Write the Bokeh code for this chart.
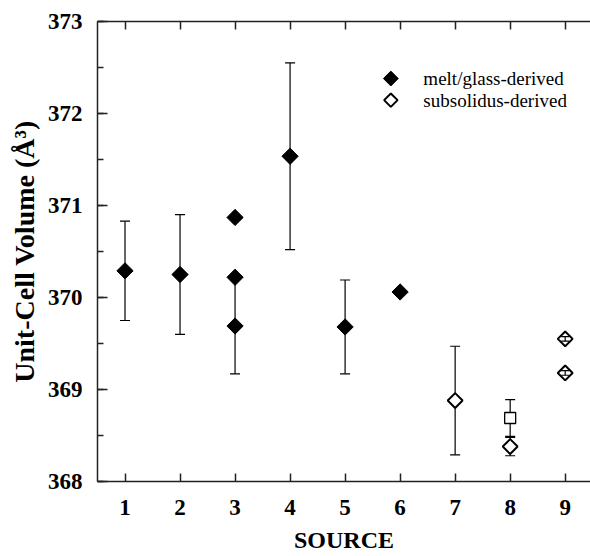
import math
from bokeh.plotting import figure
from bokeh.models import (ColumnDataSource, Whisker, TeeHead, LinearAxis, Label,
                          SingleIntervalTicker, FixedTicker, Range1d)
from bokeh.embed import file_html
from bokeh.resources import INLINE

# ---- data ----
x_ticks = [1, 2, 3, 4, 5, 6, 7, 8, 9]

melt_source = [1, 2, 3, 3, 3, 4, 5, 6]
melt_volume = [370.29, 370.25, 370.87, 370.22, 369.69, 371.535, 369.68, 370.06]
melt_error = [0.54, 0.65, 0.0, 0.0, 0.52, 1.015, 0.51, 0.0]

sub_source = [7, 8, 9, 9]
sub_volume = [368.88, 368.38, 369.55, 369.18]
sub_error = [0.59, 0.10, 0.025, 0.025]

sq_source = [8]
sq_volume = [368.69]
sq_error = [0.20]

legend_labels = ["melt/glass-derived", "subsolidus-derived"]
x_title = "SOURCE"
y_title = "Unit-Cell Volume (Å³)"

SERIF = "Liberation Serif"
X0, X1, Y0, Y1 = 0.5, 9.46, 368, 373

p = figure(width=590, height=556, output_backend="svg", toolbar_location=None,
           x_range=Range1d(X0, X1), y_range=Range1d(Y0, Y1),
           min_border_left=97, min_border_right=0, min_border_top=21, min_border_bottom=75,
           x_axis_location=None, y_axis_location=None)
p.outline_line_color = None
p.grid.visible = False
p.background_fill_color = "white"
p.border_fill_color = "white"

AX = "#222222"

xaxis = LinearAxis(ticker=FixedTicker(ticks=x_ticks), axis_label=x_title,
                   axis_line_color=AX, axis_line_width=1.5,
                   major_tick_in=8, major_tick_out=0, minor_tick_in=0, minor_tick_out=0,
                   major_tick_line_color=AX, major_tick_line_width=1.5,
                   major_label_text_font=SERIF, major_label_text_font_style="bold",
                   major_label_text_font_size="23px", major_label_text_color="black",
                   major_label_standoff=18,
                   axis_label_text_font=SERIF, axis_label_text_font_style="bold",
                   axis_label_text_font_size="24px", axis_label_text_color="black",
                   axis_label_standoff=9)
p.add_layout(xaxis, "below")

top = LinearAxis(ticker=FixedTicker(ticks=x_ticks),
                 axis_line_color=AX, axis_line_width=1.5,
                 major_tick_in=8, major_tick_out=0, minor_tick_in=0, minor_tick_out=0,
                 major_tick_line_color=AX, major_tick_line_width=1.5,
                 major_label_overrides={t: "" for t in x_ticks},
                 major_label_text_font_size="1px", major_label_standoff=0)
p.add_layout(top, "above")

yaxis = LinearAxis(ticker=SingleIntervalTicker(interval=1, num_minor_ticks=2),
                   axis_label=y_title,
                   axis_line_color=AX, axis_line_width=1.5,
                   major_tick_in=10, major_tick_out=0, minor_tick_in=6, minor_tick_out=0,
                   major_tick_line_color=AX, major_tick_line_width=1.5,
                   minor_tick_line_color=AX, minor_tick_line_width=1.5,
                   major_label_text_font=SERIF, major_label_text_font_style="bold",
                   major_label_text_font_size="23px", major_label_text_color="black",
                   major_label_standoff=15,
                   axis_label_text_font=SERIF, axis_label_text_font_style="bold",
                   axis_label_text_font_size="28px", axis_label_text_color="black",
                   axis_label_standoff=5)
p.add_layout(yaxis, "left")


def add_whiskers(xs, ys, es, level, head):
    base, up, lo = [], [], []
    for x, y, e in zip(xs, ys, es):
        if e > 0:
            base.append(x); up.append(y + e); lo.append(y - e)
    src = ColumnDataSource(dict(base=base, upper=up, lower=lo))
    w = Whisker(source=src, base="base", upper="upper", lower="lower", dimension="height",
                line_color="black", line_width=1.2, level=level,
                upper_head=TeeHead(size=head, line_color="black", line_width=1.2),
                lower_head=TeeHead(size=head, line_color="black", line_width=1.2))
    p.add_layout(w)


add_whiskers(melt_source, melt_volume, melt_error, "underlay", 10)
add_whiskers(sq_source, sq_volume, sq_error, "underlay", 10)
big = [(x, y, e) for x, y, e in zip(sub_source, sub_volume, sub_error) if e >= 0.05]
small = [(x, y, e) for x, y, e in zip(sub_source, sub_volume, sub_error) if e < 0.05]
add_whiskers([b[0] for b in big], [b[1] for b in big], [b[2] for b in big], "underlay", 10)

MELT_STYLE = dict(marker="square", angle=math.pi / 4, size=11.5,
                  fill_color="black", line_color="black", line_width=1)
SUB_STYLE = dict(marker="square", angle=math.pi / 4, size=10.5,
                 fill_color="white", line_color="black", line_width=2)

p.scatter(melt_source, melt_volume, **MELT_STYLE)
p.scatter(sub_source, sub_volume, **SUB_STYLE)
p.scatter(sq_source, sq_volume, marker="square", size=11,
          fill_color="white", line_color="black", line_width=1.3)

add_whiskers([s[0] for s in small], [s[1] for s in small], [s[2] for s in small], "overlay", 8)

# ---- legend (placed as a fraction of the plot area) ----
lx = X0 + 0.595 * (X1 - X0)
ltx = X0 + 0.661 * (X1 - X0)
ly = [Y1 - 0.124 * (Y1 - Y0), Y1 - 0.171 * (Y1 - Y0)]
p.scatter([lx], [ly[0]], **dict(MELT_STYLE, size=10.5))
p.scatter([lx], [ly[1]], **dict(SUB_STYLE, size=9.5))
for lab, yy in zip(legend_labels, ly):
    p.add_layout(Label(x=ltx, y=yy, text=lab, text_font=SERIF, text_font_size="19px",
                       text_color="black", text_baseline="middle", text_align="left"))

open("out.html", "w").write(file_html(p, INLINE))
